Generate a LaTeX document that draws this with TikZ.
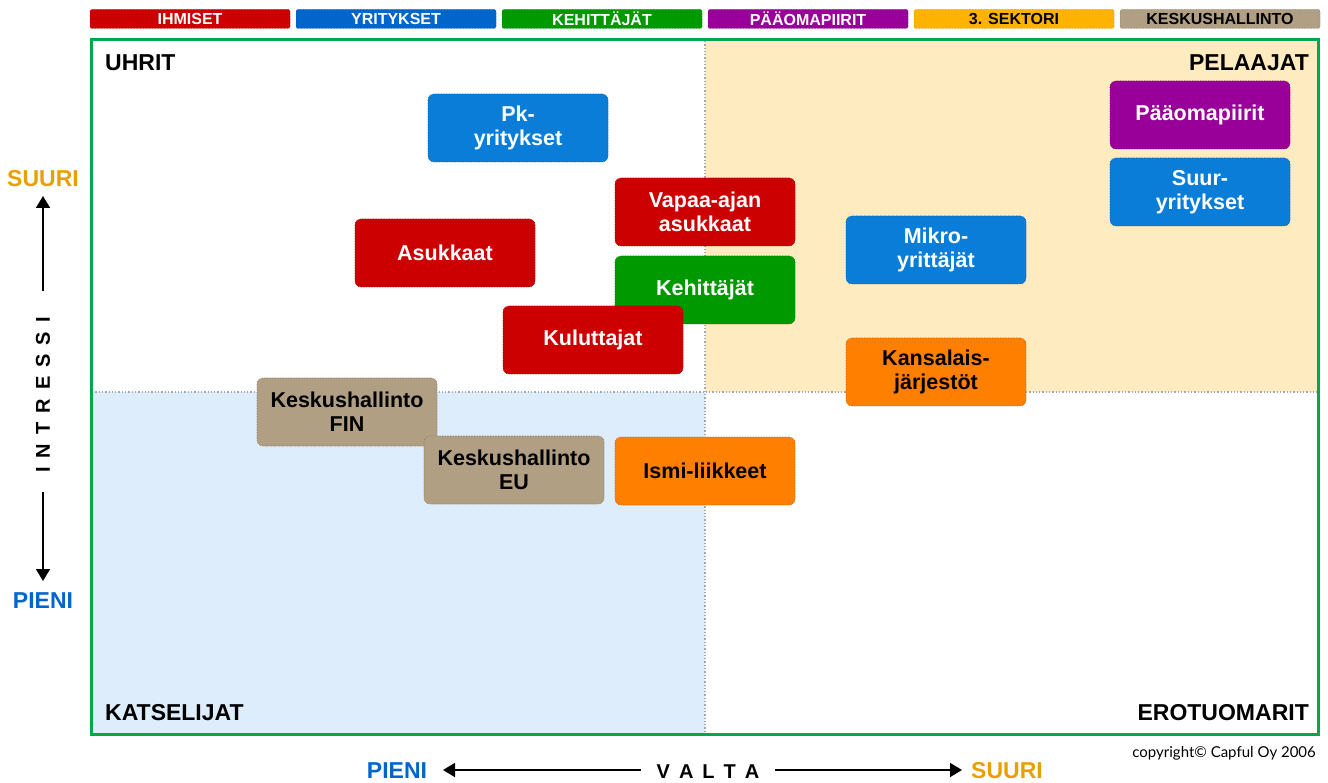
\documentclass[tikz,border=0pt]{standalone}
\usepackage{fontspec}
\setmainfont{Liberation Sans}
\newfontfamily\copyfont{Lato}
\usetikzlibrary{arrows.meta}
\definecolor{cred}{HTML}{CC0000}
\definecolor{cblue}{HTML}{0A7DD8}
\definecolor{lblue}{HTML}{0066CC}
\definecolor{cgreen}{HTML}{009900}
\definecolor{cpurple}{HTML}{990099}
\definecolor{corange}{HTML}{FF8000}
\definecolor{camber}{HTML}{FFB300}
\definecolor{ctan}{HTML}{B19F83}
\definecolor{cbeige}{HTML}{FFEBC0}
\definecolor{clight}{HTML}{DDEDFC}
\definecolor{cframe}{HTML}{00A84A}
\definecolor{caxo}{HTML}{E8A000}
\definecolor{cdiv}{HTML}{A8A8A8}
\tikzset{
  box/.style={rounded corners=6pt, minimum width=180pt, minimum height=68pt, align=center,
    font=\fontsize{21.5}{24}\selectfont\bfseries, text=white, inner sep=2pt,
    draw=#1!75!black, densely dotted, line width=0.6pt, fill=#1},
  dbox/.style={box=#1, text=black},
  legend/.style={rounded corners=2pt, minimum width=200pt, minimum height=19pt, inner sep=0pt,
    font=\fontsize{16}{16}\selectfont\bfseries, text=white, fill=#1, draw=#1!75!black, densely dotted, line width=0.5pt},
  dlegend/.style={legend=#1, text=black},
  quad/.style={font=\fontsize{23}{24}\selectfont\bfseries, inner sep=0pt},
  axlabel/.style={font=\fontsize{23}{24}\selectfont\bfseries, inner sep=0pt},
  axarrow/.style={line width=1.6pt, -{Triangle[width=14pt,length=12pt]}},
  divider/.style={cdiv, dotted, line width=1.3pt},
}
\begin{document}
\begin{tikzpicture}[x=1pt,y=-1pt]
\useasboundingbox (0,0) rectangle (1328,783);
% legend
\node[legend=cred]    (l1) at (190,19)  {IHMISET};
\node[legend=lblue]   (l2) at (396,19)  {YRITYKSET};
\node[legend=cgreen]  (l3) at (602,19)  {KEHITTÄJÄT};
\node[legend=cpurple] (l4) at (808,19)  {PÄÄOMAPIIRIT};
\node[dlegend=camber] (l5) at (1014,19) {3. SEKTORI};
\node[dlegend=ctan]   (l6) at (1220,19) {KESKUSHALLINTO};
% quadrant fills
\fill[cbeige] (705,42) rectangle (1317,392);
\fill[clight] (92,392) rectangle (705,733);
% dividers
\coordinate (vt) at (705,41);
\coordinate (vb) at (705,733);
\coordinate (hl) at (92,392);
\coordinate (hr) at (1317,392);
\draw[divider] (vt) -- (vb);
\draw[divider] (hl) -- (hr);
% frame
\draw[cframe, line width=3pt] (91,40) rectangle (1318,734);
% quadrant labels
\node[quad, anchor=west] (uhrit) at (105,63) {UHRIT};
\node[quad, anchor=east] (pelaajat) at (1309,63) {PELAAJAT};
\node[quad, anchor=west] (katselijat) at (105,713) {KATSELIJAT};
\node[quad, anchor=east] (erotuomarit) at (1309,713) {EROTUOMARIT};
% boxes
\node[box=cblue]    (pk)    at (518,128)  {Pk-\\yritykset};
\node[box=cpurple]  (paa)   at (1200,115) {Pääomapiirit};
\node[box=cblue]    (suur)  at (1200,192) {Suur-\\yritykset};
\node[box=cred]     (vapaa) at (705,212)  {Vapaa-ajan\\asukkaat};
\node[box=cred]     (asuk)  at (445,253)  {Asukkaat};
\node[box=cblue]    (mikro) at (936,250)  {Mikro-\\yrittäjät};
\node[box=cgreen]   (keh)   at (705,290)  {Kehittäjät};
\node[box=cred]     (kul)   at (593,340)  {Kuluttajat};
\node[dbox=corange] (kans)  at (936,372)  {Kansalais-\\järjestöt};
\node[dbox=ctan]    (fin)   at (347,412)  {Keskushallinto\\FIN};
\node[dbox=ctan]    (eu)    at (514,470)  {Keskushallinto\\EU};
\node[dbox=corange] (ismi)  at (705,471)  {Ismi-liikkeet};
% vertical axis
\node[axlabel, text=caxo] (vsuuri) at (43,179) {SUURI};
\node[axlabel, text=lblue] (vpieni) at (43,601) {PIENI};
\node[font=\fontsize{20}{22}\selectfont\bfseries, rotate=90, inner sep=0pt] (intressi) at (43,395)
  {I\hspace{9pt}N\hspace{9pt}T\hspace{9pt}R\hspace{9pt}E\hspace{9pt}S\hspace{9pt}S\hspace{9pt}I};
\coordinate (upstart) at (43,291);
\coordinate (upend) at (43,196);
\coordinate (dnstart) at (43,492);
\coordinate (dnend) at (43,581);
\draw[axarrow] (upstart) -- (upend);
\draw[axarrow] (dnstart) -- (dnend);
% horizontal axis
\node[axlabel, text=lblue, anchor=base] (hpieni) at (397,778) {PIENI};
\node[axlabel, text=caxo, anchor=base] (hsuuri) at (1007,778) {SUURI};
\node[font=\fontsize{20}{22}\selectfont\bfseries, anchor=base, inner sep=0pt] (valta) at (708,778)
  {V\hspace{9pt}A\hspace{9pt}L\hspace{9pt}T\hspace{9pt}A};
\coordinate (lstart) at (641,770);
\coordinate (lend) at (443,770);
\coordinate (rstart) at (775,770);
\coordinate (rend) at (962,770);
\draw[axarrow] (lstart) -- (lend);
\draw[axarrow] (rstart) -- (rend);
% copyright
\node[anchor=east, font=\copyfont\fontsize{15}{17}\selectfont, inner sep=0pt] (copy) at (1316,753) {copyright© Capful Oy 2006};
\end{tikzpicture}
\end{document}
